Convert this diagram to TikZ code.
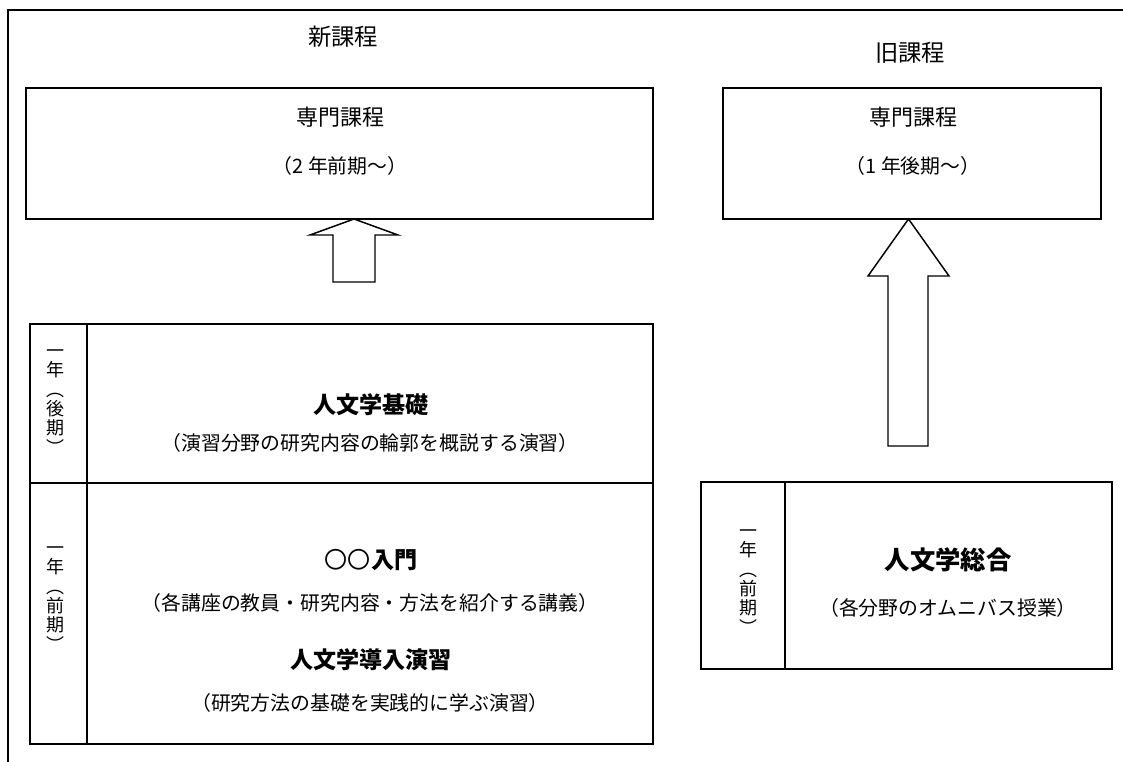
\documentclass[tikz,border=0pt]{standalone}
\usepackage{fontspec}
\newfontfamily\jp{Noto Sans CJK JP}
\begin{document}
\begin{tikzpicture}[x=0.75pt,y=-0.75pt,
  frame/.style={line width=1.4pt},
  boxline/.style={draw,line width=1.3pt,inner sep=0pt},
  blockarrow/.style={draw,line width=1.1pt,fill=white,line join=miter},
  head/.style={font=\jp\fontsize{17.5}{20}\selectfont,inner sep=0pt},
  ttl/.style={font=\jp\fontsize{16.5}{19}\selectfont,inner sep=0pt},
  sub/.style={font=\jp\fontsize{14.9}{17}\selectfont,inner sep=0pt},
  bold/.style={font=\jp\bfseries\fontsize{17.3}{20}\selectfont,inner sep=0pt},
  vert/.style={font=\jp\fontsize{13.5}{14.5}\selectfont,align=center,inner sep=0pt}
]
\useasboundingbox (0,0) rectangle (1123,762);
% outer frame (top and left)
\coordinate (fTR) at (1123,10);
\coordinate (fTL) at (8,10);
\coordinate (fBL) at (8,762);
\draw[frame] (fTR) -- (fTL) -- (fBL);

% headings
\node[head] (newh) at (343,37) {新課程};
\node[head] (oldh) at (910,53) {旧課程};

% top boxes
\node[boxline,minimum width=627*0.75pt,minimum height=131*0.75pt] (newpro) at (339.5,153.5) {};
\node[ttl] (newprot) at (340,117) {専門課程};
\node[sub] (newpros) at (340,166) {（2 年前期〜）};

\node[boxline,minimum width=378*0.75pt,minimum height=131*0.75pt] (oldpro) at (912,153.5) {};
\node[ttl] (oldprot) at (913,117) {専門課程};
\node[sub] (oldpros) at (913,166) {（1 年後期〜）};

% block arrows
\draw[blockarrow] (354,219) -- (398,235) -- (375,235) -- (375,282) -- (333,282) -- (333,235) -- (310,235) -- cycle;
\draw[blockarrow] (908.5,219) -- (949,276) -- (928,276) -- (928,446) -- (888,446) -- (888,276) -- (868,276) -- cycle;

% left table
\node[boxline,minimum width=623*0.75pt,minimum height=420*0.75pt] (ltab) at (341.5,534) {};
\coordinate (lh1) at (30,483);
\coordinate (lh2) at (653,483);
\coordinate (lv1) at (87,324);
\coordinate (lv2) at (87,744);
\draw[line width=1.3pt] (lh1) -- (lh2);
\draw[line width=1.3pt] (lv1) -- (lv2);

\node[vert] (lsem1) at (55,402) {一\\年\\︵\\後\\期\\︶};
\node[vert] (lsem2) at (55,599) {一\\年\\︵\\前\\期\\︶};

\node[bold] (kiso) at (371,405) {人文学基礎};
\node[sub] (kisos) at (370,443) {（演習分野の研究内容の輪郭を概説する演習）};
\node[bold] (nyumon) at (371,560) {{\mdseries 〇〇}入門};
\node[sub] (nyumons) at (370,603) {（各講座の教員・研究内容・方法を紹介する講義）};
\node[bold] (dounyu) at (371,660) {人文学導入演習};
\node[sub] (dounyus) at (370,703) {（研究方法の基礎を実践的に学ぶ演習）};

% right table
\node[boxline,minimum width=411*0.75pt,minimum height=187*0.75pt] (rtab) at (906.5,575.5) {};
\coordinate (rv1) at (785,482);
\coordinate (rv2) at (785,669);
\draw[line width=1.3pt] (rv1) -- (rv2);
\node[vert] (rsem) at (748,582) {一\\年\\︵\\前\\期\\︶};
\node[font=\jp\bfseries\fontsize{19}{22}\selectfont,inner sep=0pt] (sogo) at (948,560) {人文学総合};
\node[sub] (sogos) at (948,608) {（各分野のオムニバス授業）};
\end{tikzpicture}
\end{document}
